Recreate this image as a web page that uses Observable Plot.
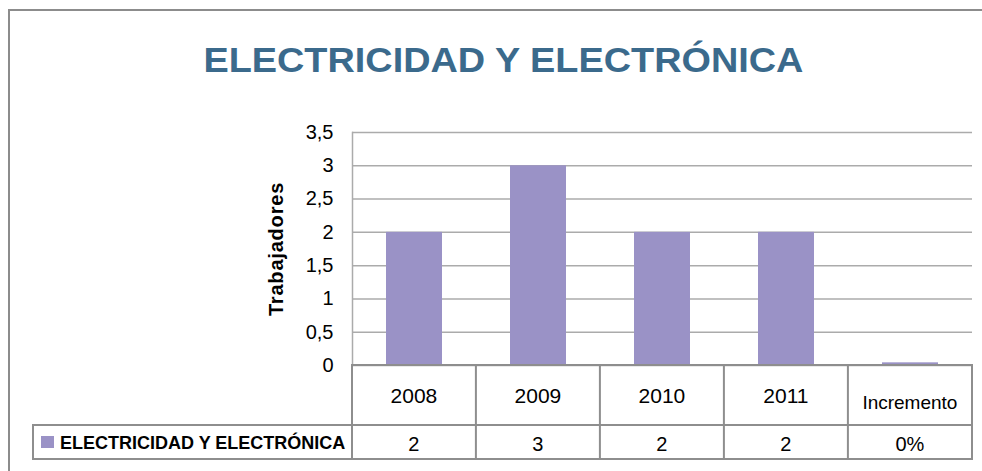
<!DOCTYPE html>
<html>
<head>
<meta charset="utf-8">
<script src="https://cdn.jsdelivr.net/npm/d3@7"></script>
<script src="https://cdn.jsdelivr.net/npm/@observablehq/plot@0.6"></script>
<style>
  html, body { margin: 0; padding: 0; background: #fff; }
  body { font-family: "Liberation Sans", Arial, Helvetica, sans-serif; }
  #wrap { position: relative; width: 982px; height: 471px; overflow: hidden; background: #fff; }
  #chart { position: absolute; left: 0; top: 0; }
  #table { position: absolute; left: 0; top: 0; pointer-events: none; }
  #title { position: absolute; left: 12px; top: 0; width: 982px; text-align: center;
           font-weight: bold; font-size: 35px; color: #3b6a8c; white-space: nowrap; }
  #title span { display: inline-block; transform-origin: 50% 50%; }
</style>
</head>
<body>
<div id="wrap">
  <div id="chart"></div>
  <svg id="table" width="982" height="471"></svg>
  <div id="title"><span id="titleText"></span></div>
</div>
<script>
// ---- data ----
const title = "ELECTRICIDAD Y ELECTRÓNICA";
const yLabel = "Trabajadores";
const seriesName = "ELECTRICIDAD Y ELECTRÓNICA";
const categories = ["2008", "2009", "2010", "2011", "Incremento"];
const values = [2, 3, 2, 2, 0.04];
const tableLabels = ["2", "3", "2", "2", "0%"];
const yTicks = [0, 0.5, 1, 1.5, 2, 2.5, 3, 3.5];

const barColor = "#9a92c6";
const gridColor = "#ababab";
const borderColor = "#8e8e8e";

const data = categories.map((c, i) => ({cat: c, value: values[i]}));

const chart = Plot.plot({
  width: 982,
  height: 366,
  marginTop: 132,
  marginBottom: 1,
  marginLeft: 352,
  marginRight: 10,
  style: {fontFamily: "'Liberation Sans', Arial, sans-serif", fontSize: "20px", color: "#000", background: "transparent", overflow: "visible"},
  x: {domain: categories, paddingInner: 0.55, paddingOuter: 0.275, axis: null},
  y: {domain: [0, 3.5], ticks: yTicks, tickFormat: d => String(d).replace(".", ","), tickSize: 0, tickPadding: 19, label: null},
  marks: [
    Plot.gridY(yTicks, {stroke: gridColor, strokeOpacity: 1, strokeWidth: 1.5}),
    Plot.barY(data, {x: "cat", y: "value", fill: barColor}),
    Plot.frame({anchor: "left", stroke: gridColor, strokeWidth: 1.5}),
    Plot.text([yLabel], {frameAnchor: "left", dx: -76, rotate: -90, textAnchor: "middle", lineAnchor: "middle", fontWeight: "bold", fontSize: 20, fill: "#000"})
  ]
});
document.getElementById("chart").appendChild(chart);

// y label letter spacing
d3.select(chart).selectAll("text").filter(function() { return this.textContent === yLabel; })
  .style("letter-spacing", "0.8px");

// ---- title ----
const tt = document.getElementById("titleText");
tt.textContent = title;
const tw = tt.getBoundingClientRect().width;
tt.style.transform = `scaleX(${600 / tw})`;
document.getElementById("title").style.top = "40px";

// ---- data table, aligned to the Plot x scale ----
const xs = chart.scale("x");
const n = categories.length;
const step = xs.step ?? (xs.range[1] - xs.range[0]) / (n - xs.paddingInner + 2 * xs.paddingOuter);
const cellLeft = c => xs.apply(c) - step * xs.paddingInner / 2;
const y0 = chart.scale("y").apply(0);
const headTop = y0, headBot = y0 + 60, rowBot = headBot + 34;
const tableLeft = 33;
const plotLeft = xs.range[0], plotRight = xs.range[1];

const svg = d3.select("#table");
// outer page frame
svg.append("path").attr("d", "M9,471V10H982").attr("fill", "none").attr("stroke", "#8c8c8c").attr("stroke-width", 2);

const g = svg.append("g").attr("stroke", borderColor).attr("stroke-width", 2).attr("fill", "none");
g.append("rect").attr("x", plotLeft).attr("y", headTop).attr("width", plotRight - plotLeft).attr("height", headBot - headTop);
g.append("rect").attr("x", tableLeft).attr("y", headBot).attr("width", plotRight - tableLeft).attr("height", rowBot - headBot);
categories.forEach((c, i) => {
  if (i === 0) return;
  const x = cellLeft(c);
  g.append("line").attr("x1", x).attr("x2", x).attr("y1", headTop).attr("y2", rowBot);
});
g.append("line").attr("x1", plotLeft).attr("x2", plotLeft).attr("y1", headBot).attr("y2", rowBot);

const ff = "'Liberation Sans', Arial, sans-serif";
categories.forEach((c, i) => {
  const cx = cellLeft(c) + step / 2;
  const isInc = c === "Incremento";
  svg.append("text").attr("x", cx).attr("y", isInc ? 409 : 403).attr("text-anchor", "middle")
    .attr("font-family", ff).attr("font-size", isInc ? 19 : 21).attr("fill", "#000").text(c);
  svg.append("text").attr("x", cx).attr("y", 451).attr("text-anchor", "middle")
    .attr("font-family", ff).attr("font-size", 20).attr("fill", "#000").text(tableLabels[i]);
});
svg.append("rect").attr("x", 41).attr("y", 436).attr("width", 13).attr("height", 12).attr("fill", barColor);
svg.append("text").attr("x", 60).attr("y", 448.5).attr("font-family", ff).attr("font-weight", "bold")
  .attr("font-size", 18).attr("fill", "#000").text(seriesName);
</script>
</body>
</html>
